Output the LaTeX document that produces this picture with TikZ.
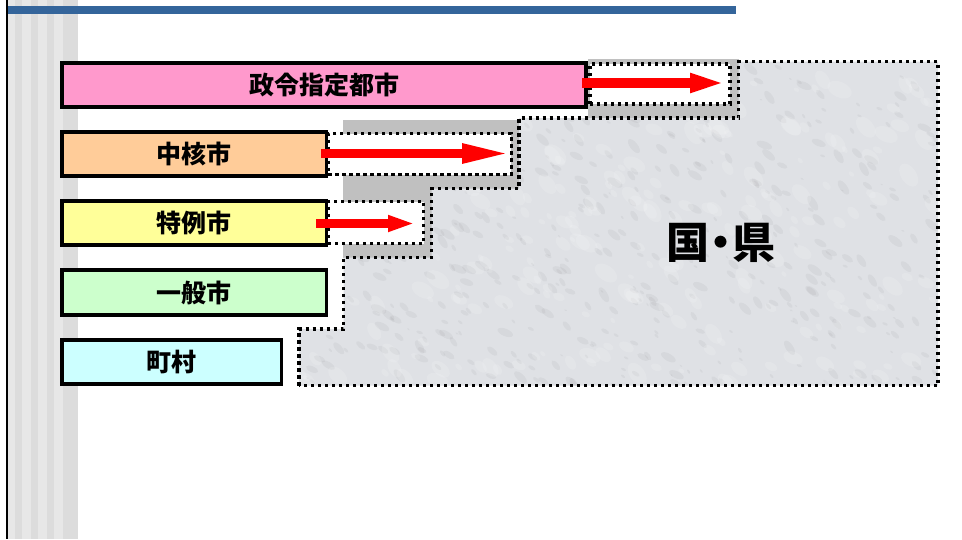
\documentclass[tikz,border=0pt]{standalone}
\usepackage{fontspec}
\newfontfamily\jp{Noto Sans CJK JP}
\usetikzlibrary{arrows.meta}
\definecolor{barblue}{RGB}{52,101,155}
\definecolor{stripeA}{RGB}{231,231,231}
\definecolor{stripeB}{RGB}{220,220,220}
\definecolor{shadowgray}{RGB}{192,192,192}
\definecolor{marble}{RGB}{223,225,229}
\definecolor{boxpink}{RGB}{255,153,204}
\definecolor{boxorange}{RGB}{255,204,153}
\definecolor{boxyellow}{RGB}{255,255,153}
\definecolor{boxgreen}{RGB}{204,255,204}
\definecolor{boxcyan}{RGB}{204,255,255}
\definecolor{arrowred}{RGB}{255,0,0}
\begin{document}
\begin{tikzpicture}[x=1pt,y=-1pt,
  levelbox/.style={draw=black,line width=3.5pt,rectangle,inner sep=0pt,outer sep=0pt,
    font=\jp\bfseries\fontsize{25}{25}\selectfont},
  extbox/.style={draw=black,fill=white,line width=3.5pt,dash pattern=on 3.3pt off 3.7pt,
    rectangle,inner sep=0pt,outer sep=0pt},
  dotborder/.style={draw=black,line width=3.5pt,dash pattern=on 3.3pt off 3.7pt},
  redarrow/.style={draw=arrowred,line cap=butt}
]
\useasboundingbox (0,0) rectangle (962,539);
\fill[white] (0,0) rectangle (962,539);
% left stripes
\foreach \a/\b/\c in {8/15/stripeA,15/22/stripeB,22/31/stripeA,31/38/stripeB,38/47/stripeA,47/54/stripeB,54/63/stripeA,63/70/stripeB,70/78/stripeB}
  \fill[\c] (\a,0) rectangle (\b,539);
\fill[black] (6,0) rectangle (8,539);
\fill[barblue] (8,6) rectangle (736,14);
% gray shadow
\fill[shadowgray] (343,120) rectangle (519,258);
\fill[shadowgray] (588,59) rectangle (738.5,118);
% textured region
\begin{scope}
  \clip (299,385.5) -- (299,329) -- (343.5,329) -- (343.5,257.5) -- (431.5,257.5) -- (431.5,188.5)
    -- (519,188.5) -- (519,118) -- (738.5,118) -- (738.5,61.5) -- (938,61.5) -- (938,385.5) -- cycle;
  \fill[marble] (290,55) rectangle (945,390);
  \pgfmathsetseed{7}
  \foreach \i in {1,...,520}{
    \pgfmathsetmacro\bx{299+rnd*640}
    \pgfmathsetmacro\by{60+rnd*327}
    \pgfmathsetmacro\br{1.5+rnd*7}
    \pgfmathsetmacro\ba{-60+rnd*40}
    \fill[black!60,opacity=0.07,rotate around={\ba:(\bx,\by)}] (\bx,\by) ellipse ({\br pt} and {0.45*\br pt});
  }
  \foreach \i in {1,...,300}{
    \pgfmathsetmacro\bx{299+rnd*640}
    \pgfmathsetmacro\by{60+rnd*327}
    \pgfmathsetmacro\br{3+rnd*10}
    \pgfmathsetmacro\ba{-60+rnd*40}
    \fill[white,opacity=0.14,rotate around={\ba:(\bx,\by)}] (\bx,\by) ellipse ({\br pt} and {0.6*\br pt});
  }
\end{scope}
\draw[dotborder] (299,385.5) -- (299,329) -- (343.5,329) -- (343.5,257.5) -- (431.5,257.5) -- (431.5,188.5)
    -- (519,188.5) -- (519,118) -- (738.5,118) -- (738.5,61.5) -- (938,61.5) -- (938,385.5) -- cycle;
\node[font=\jp\bfseries\fontsize{43}{43}\selectfont] (kenkoku) at (720.5,243) {国\hspace{-10pt}・\hspace{-10pt}県};
% level boxes
\node[levelbox,fill=boxpink,minimum width=524pt,minimum height=44pt] (seirei) at (324,85) {政令指定都市};
\node[levelbox,fill=boxorange,minimum width=264.5pt,minimum height=44pt] (chukaku) at (194.25,154) {中核市};
\node[levelbox,fill=boxyellow,minimum width=264.5pt,minimum height=44pt] (tokurei) at (194.25,223) {特例市};
\node[levelbox,fill=boxgreen,minimum width=264.5pt,minimum height=45pt] (ippan) at (194.25,292.5) {一般市};
\node[levelbox,fill=boxcyan,minimum width=219.5pt,minimum height=44pt] (choson) at (171.75,362) {町村};
% extension boxes
\node[extbox,minimum width=140pt,minimum height=40pt] (ext1) at (660,84) {};
\node[extbox,minimum width=183pt,minimum height=41pt] (ext2) at (419.75,154) {};
\node[extbox,minimum width=95.5pt,minimum height=42pt] (ext3) at (375.75,222.5) {};
% arrows
\coordinate (a1s) at (582,83);
\coordinate (a1e) at (727,83);
\coordinate (a2s) at (321,153.5);
\coordinate (a2e) at (510,153.5);
\coordinate (a3s) at (316,223.5);
\coordinate (a3e) at (415,223.5);
\draw[redarrow,line width=10pt,-{Triangle[length=37pt,width=17pt]}] (a1s) -- (a1e);
\draw[redarrow,line width=8.5pt,-{Triangle[length=48pt,width=18pt]}] (a2s) -- (a2e);
\draw[redarrow,line width=9pt,-{Triangle[length=27pt,width=15pt]}] (a3s) -- (a3e);
\end{tikzpicture}
\end{document}
